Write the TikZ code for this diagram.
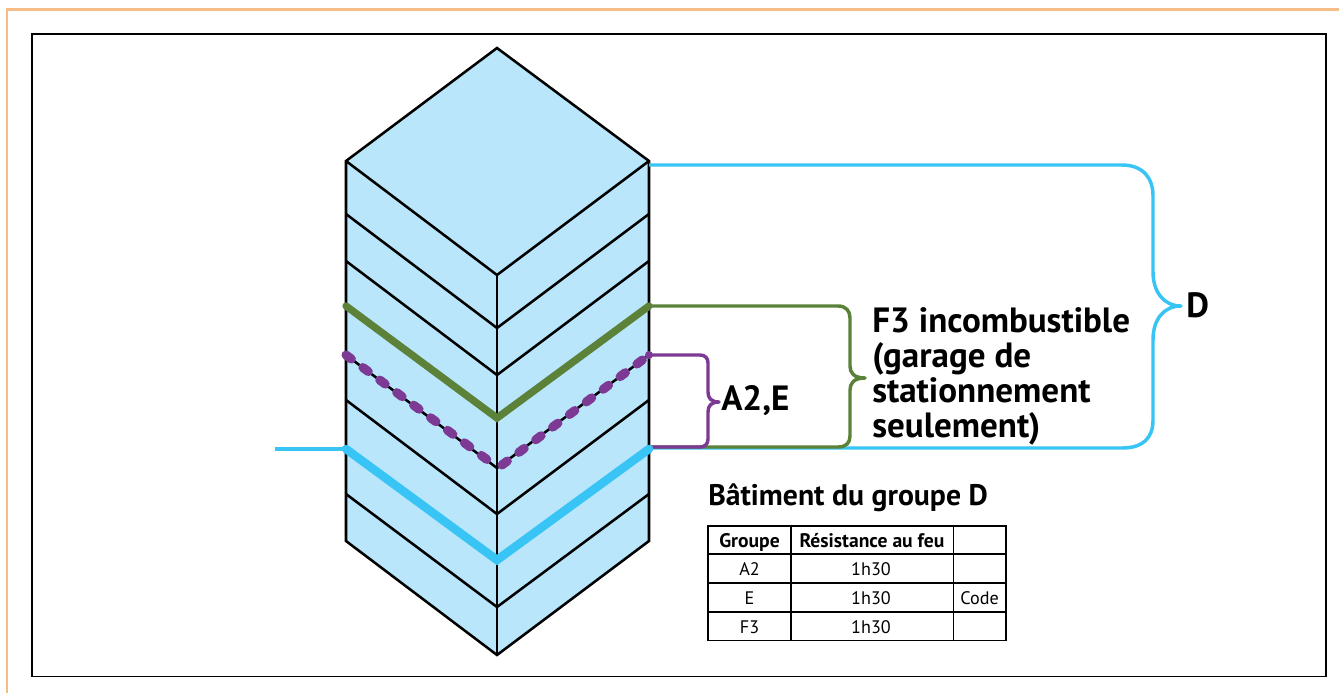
\documentclass[tikz,border=0pt]{standalone}
\usepackage{fontspec}
\setmainfont{PT Sans}
\definecolor{wallblue}{HTML}{B9E6FB}
\definecolor{skyline}{HTML}{38C4F4}
\definecolor{grassline}{HTML}{5C8239}
\definecolor{plumline}{HTML}{7D3A94}
\definecolor{peach}{HTML}{F6BE86}
\begin{document}
\begin{tikzpicture}[x=0.75pt,y=-0.75pt,
  edge/.style={black,line width=1.9pt,line join=miter},
  skyband/.style={skyline,line width=6.4pt,line join=miter},
  grassband/.style={grassline,line width=5.5pt,line join=miter},
  plumdash/.style={plumline,line width=6.8pt,line cap=round,dash pattern=on 5pt off 10.8pt},
  brace/.style={line width=2.6pt,line join=round},
  biglabel/.style={font=\fontsize{26.3pt}{27pt}\selectfont\bfseries,inner sep=0pt},
  tablehead/.style={font=\fontsize{14.7pt}{16pt}\selectfont\bfseries,inner sep=0pt},
  tablecell/.style={font=\fontsize{13.6pt}{15pt}\selectfont,inner sep=0pt},
  gridline/.style={black,line width=1.3pt}]
\useasboundingbox (0,0) rectangle (1339,693);
\fill[white] (0,0) rectangle (1339,693);
% outer frames
\draw[peach,line width=2.1pt] (7,693) -- (7,9.5) -- (1339,9.5);
\draw[black,line width=1.3pt] (32,34) rectangle (1326,676.5);
% building
\coordinate (apex) at (497,48);
\coordinate (tl) at (346,161);
\coordinate (tr) at (649,161);
\coordinate (fc) at (497,275);
\coordinate (bl) at (346,541);
\coordinate (br) at (649,541);
\coordinate (bc) at (497,655);
\fill[wallblue] (apex) -- (tr) -- (br) -- (bc) -- (bl) -- (tl) -- cycle;
\draw[edge] (apex) -- (tr) -- (br) -- (bc) -- (bl) -- (tl) -- cycle;
\draw[edge] (tl) -- (fc) -- (tr);
\draw[edge] (fc) -- (bc);
\foreach \ly/\cy in {214/328,261/375,400/514,494/607}
  \draw[edge] (346,\ly) -- (497,\cy) -- (649,\ly);
\draw[edge] (346,355) -- (497,468) -- (649,355);
% left lead of the blue line
\coordinate (leadL) at (275,449);
\coordinate (bandL) at (346,449);
\coordinate (bandC) at (497,560);
\coordinate (bandR) at (649,449);
\coordinate (greenL) at (346,306);
\coordinate (greenC) at (497,418);
\coordinate (greenR) at (649,306);
\coordinate (plumL) at (346,355);
\coordinate (plumC) at (497,467);
\coordinate (plumR) at (649,355);
% brace D
\draw[skyline,brace] (649,165) -- (1122,165) .. controls (1143,165) and (1153,178) .. (1153,196)
  -- (1153,272) .. controls (1153,292) and (1164,306) .. (1181,306)
  .. controls (1164,306) and (1153,319) .. (1153,340)
  -- (1153,420) .. controls (1153,438) and (1143,448) .. (1122,448) -- (649,448);
\draw[skyline,line width=2.6pt] (leadL) -- (bandL);
% brace F3
\draw[grassline,brace] (649,306) -- (838,306) .. controls (846,306) and (850,311) .. (850,318)
  -- (850,366) .. controls (850,373) and (854,378) .. (865,378)
  .. controls (854,378) and (850,383) .. (850,390)
  -- (850,436) .. controls (850,443) and (846,447) .. (838,447) -- (649,447);
% brace A2,E
\draw[plumline,brace] (649,355) -- (700,355) .. controls (705,355) and (708,358) .. (708,363)
  -- (708,392) .. controls (708,398) and (711,402) .. (719,402)
  .. controls (711,402) and (708,406) .. (708,412)
  -- (708,439) .. controls (708,444) and (705,447) .. (700,447) -- (649,447);
% coloured chevrons
\draw[skyband,line cap=round] (bandL) -- (bandC) -- (bandR);
\draw[grassband,line cap=round] (greenL) -- (greenC) -- (greenR);
\draw[plumdash] (plumL) -- (plumC);
\draw[plumdash] (plumC) ++(5,-2) -- (plumR);
\fill[plumline] (plumR) circle (4);
% labels
\node[biglabel,anchor=base west] (labD) at (1186,317) {D};
\node[biglabel,anchor=base west] (labA) at (721,410) {A2,E};
\node[biglabel,anchor=base west] (labF1) at (872,332) {F3 incombustible};
\node[biglabel,anchor=base west] (labF2) at (872,367) {(garage de};
\node[biglabel,anchor=base west] (labF3) at (872,402) {stationnement};
\node[biglabel,anchor=base west] (labF4) at (872,437) {seulement)};
\node[font=\fontsize{22.3pt}{24pt}\selectfont\bfseries,inner sep=0pt,anchor=base west] (title) at (708,505) {Bâtiment du groupe D};
% table
\draw[gridline] (708,526) rectangle (1006,640.5);
\foreach \yy in {554,583,612} \draw[gridline] (708,\yy) -- (1006,\yy);
\draw[gridline] (791,526) -- (791,640.5);
\draw[gridline] (953.5,526) -- (953.5,640.5);
\node[tablehead,anchor=base] (h1) at (749.5,547) {Groupe};
\node[tablehead,anchor=base] (h2) at (872,547) {Résistance au feu};
\node[tablecell,anchor=base] (a1) at (749.5,575.5) {A2};
\node[tablecell,anchor=base] (a2) at (871,575.5) {1h30};
\node[tablecell,anchor=base] (e1) at (749.5,604) {E};
\node[tablecell,anchor=base] (e2) at (871,604) {1h30};
\node[tablecell,anchor=base] (code) at (979.5,604) {Code};
\node[tablecell,anchor=base] (f1) at (749.5,633) {F3};
\node[tablecell,anchor=base] (f2) at (871,633) {1h30};
\end{tikzpicture}
\end{document}
